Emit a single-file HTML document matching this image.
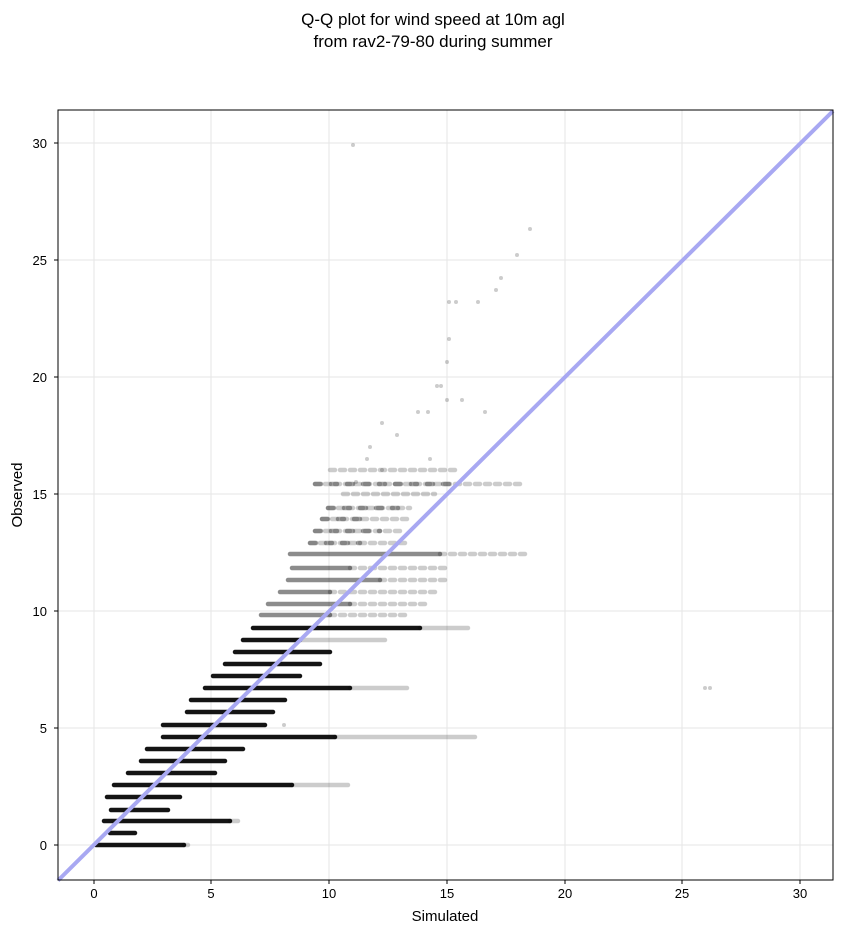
<!DOCTYPE html>
<html><head><meta charset="utf-8"><style>
body{margin:0;background:#fff;}
svg text{font-family:"Liberation Sans",sans-serif;}
</style></head><body>
<svg width="843" height="934" viewBox="0 0 843 934" xmlns="http://www.w3.org/2000/svg">
<rect width="843" height="934" fill="#fff"/>
<text x="433" y="25" font-size="17" text-anchor="middle">Q-Q plot for wind speed at 10m agl</text>
<text x="433" y="47" font-size="17" text-anchor="middle">from rav2-79-80 during summer</text>
<g stroke="#e6e6e6" stroke-width="1">
<line x1="94" y1="110" x2="94" y2="880"/><line x1="211" y1="110" x2="211" y2="880"/><line x1="329" y1="110" x2="329" y2="880"/><line x1="447" y1="110" x2="447" y2="880"/><line x1="565" y1="110" x2="565" y2="880"/><line x1="682" y1="110" x2="682" y2="880"/><line x1="800" y1="110" x2="800" y2="880"/>
<line x1="58" y1="845" x2="833" y2="845"/><line x1="58" y1="728" x2="833" y2="728"/><line x1="58" y1="611" x2="833" y2="611"/><line x1="58" y1="494" x2="833" y2="494"/><line x1="58" y1="377" x2="833" y2="377"/><line x1="58" y1="260" x2="833" y2="260"/><line x1="58" y1="143" x2="833" y2="143"/>
</g>
<g stroke-linecap="round" stroke-width="4.5" fill="none">
<path stroke="#000" stroke-opacity="0.92" d="M96 845H184M110 833H135M104 821H230M111 810H168M107 797H180M114 785H292M128 773H215M141 761H225M147 749H243M163 737H335M163 725H265M187 712H273M191 700H285M205 688H350M213 676H300M225 664H320M235 652H330M243 640H300M253 628H420"/>
<path stroke="#000" stroke-opacity="0.2" d="M184 845H188M230 821H238M292 785H348M335 737H475M350 688H407M300 640H385M420 628H468"/>
<path stroke="#000" stroke-opacity="0.45" d="M261 615H330M268 604H350M280 592H330M288 580H380M292 568H350M290 554H440"/>
<path stroke="#000" stroke-opacity="0.2" stroke-dasharray="5 5" d="M330 615H405M350 604H430M330 592H440M380 580H445M350 568H447M440 554H527M310 543H410M315 531H405M322 519H410M328 508H410M343 494H435M315 484H520M330 470H460"/>
<path stroke="#000" stroke-opacity="0.35" stroke-dasharray="6 10" d="M310 543H360M315 531H380M322 519H370M328 508H400M315 484H450"/>
</g>
<g fill="#000" fill-opacity="0.2">
<circle cx="353" cy="145" r="2"/><circle cx="530" cy="229" r="2"/><circle cx="517" cy="255" r="2"/><circle cx="501" cy="278" r="2"/><circle cx="496" cy="290" r="2"/><circle cx="478" cy="302" r="2"/><circle cx="449" cy="302" r="2"/><circle cx="456" cy="302" r="2"/><circle cx="449" cy="339" r="2"/><circle cx="447" cy="362" r="2"/><circle cx="441" cy="386" r="2"/><circle cx="437" cy="386" r="2"/><circle cx="447" cy="400" r="2"/><circle cx="462" cy="400" r="2"/><circle cx="418" cy="412" r="2"/><circle cx="428" cy="412" r="2"/><circle cx="382" cy="423" r="2"/><circle cx="397" cy="435" r="2"/><circle cx="370" cy="447" r="2"/><circle cx="367" cy="459" r="2"/><circle cx="430" cy="459" r="2"/><circle cx="382" cy="470" r="2"/><circle cx="356" cy="482" r="2"/><circle cx="485" cy="412" r="2"/><circle cx="705" cy="688" r="2"/><circle cx="710" cy="688" r="2"/><circle cx="284" cy="725" r="2"/>
</g>
<line x1="58" y1="880.5" x2="833" y2="111" stroke="#a8a8f2" stroke-width="4"/>
<rect x="58" y="110" width="775" height="770" fill="none" stroke="#000" stroke-width="1"/>
<g font-size="13" text-anchor="middle">
<text x="94" y="898">0</text><text x="211" y="898">5</text><text x="329" y="898">10</text><text x="447" y="898">15</text><text x="565" y="898">20</text><text x="682" y="898">25</text><text x="800" y="898">30</text>
</g>
<g font-size="13" text-anchor="end">
<text x="47" y="850">0</text><text x="47" y="733">5</text><text x="47" y="616">10</text><text x="47" y="499">15</text><text x="47" y="382">20</text><text x="47" y="265">25</text><text x="47" y="148">30</text>
</g>
<g stroke="#000"><line x1="94" y1="880" x2="94" y2="884"/><line x1="211" y1="880" x2="211" y2="884"/><line x1="329" y1="880" x2="329" y2="884"/><line x1="447" y1="880" x2="447" y2="884"/><line x1="565" y1="880" x2="565" y2="884"/><line x1="682" y1="880" x2="682" y2="884"/><line x1="800" y1="880" x2="800" y2="884"/>
<line x1="54" y1="845" x2="58" y2="845"/><line x1="54" y1="728" x2="58" y2="728"/><line x1="54" y1="611" x2="58" y2="611"/><line x1="54" y1="494" x2="58" y2="494"/><line x1="54" y1="377" x2="58" y2="377"/><line x1="54" y1="260" x2="58" y2="260"/><line x1="54" y1="143" x2="58" y2="143"/></g>
<text x="445" y="921" font-size="15" text-anchor="middle">Simulated</text>
<text transform="translate(22,495) rotate(-90)" font-size="15" text-anchor="middle">Observed</text>
</svg>
</body></html>
